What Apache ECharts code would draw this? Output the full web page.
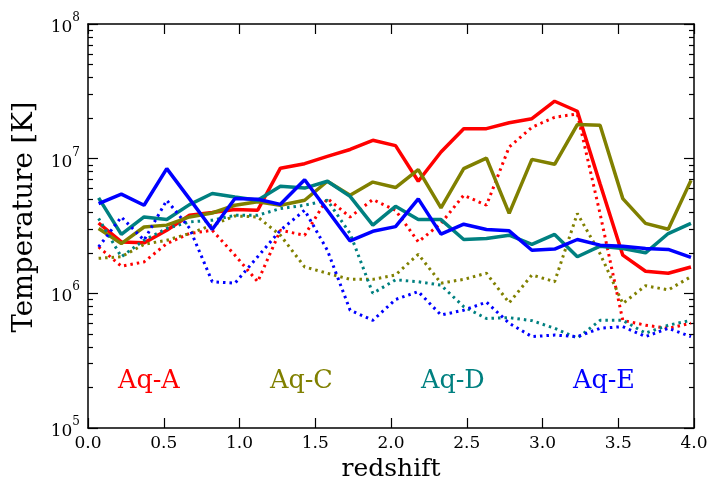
<!DOCTYPE html>
<html><head><meta charset="utf-8">
<script src="https://cdn.jsdelivr.net/npm/echarts@6/dist/echarts.min.js"></script>
<style>html,body{margin:0;padding:0;background:#fff}#c{width:708px;height:481px}</style>
</head><body><div id="c"></div>
<script>
// redshift sample points
const redshift = [0.07,0.22,0.37,0.52,0.67,0.82,0.97,1.12,1.27,1.43,1.58,1.73,1.88,2.03,2.18,2.33,2.48,2.63,2.78,2.93,3.08,3.23,3.38,3.53,3.68,3.83,3.98];

// Aq-A (red)
const aqA_solid = [3.33e6,2.41e6,2.37e6,2.94e6,3.8e6,3.98e6,4.2e6,4.14e6,8.5e6,9.18e6,1.04e7,1.17e7,1.37e7,1.25e7,6.8e6,1.12e7,1.67e7,1.67e7,1.85e7,1.98e7,2.67e7,2.25e7,6.5e6,1.92e6,1.46e6,1.41e6,1.57e6];
const aqA_dot   = [2.21e6,1.59e6,1.71e6,2.34e6,2.78e6,2.94e6,1.92e6,1.22e6,2.94e6,2.7e6,5.06e6,3.69e6,4.97e6,4.14e6,2.41e6,3.31e6,5.35e6,4.51e6,1.22e7,1.71e7,2.03e7,2.15e7,3.9e6,6.3e5,5.8e5,5.5e5,6.0e5];
// Aq-C (olive)
const aqC_solid = [3.03e6,2.34e6,3.11e6,3.21e6,3.69e6,3.95e6,4.51e6,4.78e6,4.51e6,4.91e6,6.8e6,5.35e6,6.7e6,6.1e6,8.3e6,4.31e6,8.43e6,1.01e7,3.92e6,9.88e6,9.08e6,1.79e7,1.77e7,5.05e6,3.31e6,2.99e6,6.9e6];
const aqC_dot   = [1.82e6,1.87e6,2.31e6,2.48e6,2.78e6,3.21e6,3.76e6,3.69e6,2.7e6,1.57e6,1.41e6,1.27e6,1.27e6,1.37e6,1.95e6,1.19e6,1.27e6,1.41e6,8.5e5,1.37e6,1.22e6,3.92e6,1.97e6,8.4e5,1.14e6,1.06e6,1.33e6];
// Aq-D (teal)
const aqD_solid = [5.12e6,2.74e6,3.69e6,3.53e6,4.56e6,5.51e6,5.2e6,4.91e6,6.24e6,6.05e6,6.8e6,5.25e6,3.21e6,4.43e6,3.53e6,3.53e6,2.51e6,2.55e6,2.7e6,2.31e6,2.74e6,1.87e6,2.24e6,2.15e6,2.0e6,2.78e6,3.31e6];
const aqD_dot   = [3.6e6,1.87e6,2.48e6,3.03e6,3.39e6,3.49e6,3.8e6,3.8e6,4.26e6,4.51e6,4.91e6,2.78e6,1.0e6,1.26e6,1.22e6,1.15e6,7.96e5,6.5e5,6.6e5,6.27e5,5.5e5,4.65e5,6.3e5,6.3e5,5.06e5,5.8e5,6.3e5];
// Aq-E (blue)
const aqE_solid = [4.64e6,5.45e6,4.51e6,8.43e6,5.03e6,2.98e6,5.06e6,5.0e6,4.58e6,6.98e6,4.14e6,2.45e6,2.89e6,3.13e6,5.03e6,2.75e6,3.26e6,2.98e6,2.91e6,2.09e6,2.13e6,2.51e6,2.28e6,2.24e6,2.15e6,2.12e6,1.85e6];
const aqE_dot   = [2.21e6,3.69e6,2.48e6,4.91e6,3.05e6,1.22e6,1.19e6,1.87e6,2.94e6,4.14e6,2.09e6,7.5e5,6.3e5,9.0e5,1.03e6,6.9e5,7.5e5,8.6e5,6.0e5,4.77e5,4.9e5,4.77e5,5.5e5,5.66e5,4.77e5,5.5e5,4.77e5];

const xTickLabels = ['0.0','0.5','1.0','1.5','2.0','2.5','3.0','3.5','4.0'];
const yTickExps = [5,6,7,8];
const labelNames = ['Aq-A','Aq-C','Aq-D','Aq-E'];
const colors = ['#ff0000','#808000','#008080','#0000ff'];

const FONT = 'DejaVu Serif';
const minorVals = [];
for (let e = 5; e < 8; e++) for (let k = 2; k <= 9; k++) minorVals.push(k * Math.pow(10, e));

const chart = echarts.init(document.getElementById('c'), null, {renderer: 'canvas'});
const G = {left: 88, right: 14, top: 24, bottom: 53, outerBoundsMode: 'none', containLabel: false};
const axLine = {show: true, lineStyle: {color: '#000', width: 1.5}};

function mk(name, arr, color, dotted) {
  return {
    name, type: 'line', xAxisIndex: 0, yAxisIndex: 0, symbol: 'none', clip: true,
    data: redshift.map((x, i) => [x, arr[i]]),
    lineStyle: dotted ? {color, width: 3, type: [2.5, 4]} : {color, width: 3.5},
    itemStyle: {color}, emphasis: {disabled: true}, z: 2
  };
}

const option = {
  animation: false,
  backgroundColor: '#fff',
  grid: G,
  xAxis: [
    {type: 'value', min: 0, max: 4, interval: 0.5, position: 'bottom',
     axisLine: axLine, splitLine: {show: false},
     axisTick: {inside: true, length: 10, lineStyle: {color: '#000', width: 1.2}},
     axisLabel: {color: '#000', fontFamily: FONT, fontSize: 17, margin: 7,
       formatter: v => xTickLabels[Math.round(v * 2)]},
     name: 'redshift', nameLocation: 'middle', nameGap: 29,
     nameTextStyle: {color: '#000', fontFamily: FONT, fontSize: 25}},
    {type: 'value', min: 0, max: 4, interval: 0.5, position: 'top',
     axisLine: axLine, splitLine: {show: false},
     axisTick: {inside: true, length: 10, lineStyle: {color: '#000', width: 1.2}},
     axisLabel: {show: false}}
  ],
  yAxis: [
    {type: 'log', logBase: 10, min: 1e5, max: 1e8, position: 'left',
     axisLine: axLine, splitLine: {show: false}, minorTick: {show: false},
     axisTick: {inside: true, length: 10, lineStyle: {color: '#000', width: 1.2}},
     axisLabel: {color: '#000', margin: 8,
       formatter: v => '{b|10}{s|' + Math.round(Math.log10(v)) + '}',
       rich: {b: {fontFamily: FONT, fontSize: 17, color: '#000', verticalAlign: 'bottom', lineHeight: 24},
              s: {fontFamily: FONT, fontSize: 12, color: '#000', verticalAlign: 'top', lineHeight: 24}}},
     name: 'Temperature [K]', nameLocation: 'middle', nameGap: 49,
     nameTextStyle: {color: '#000', fontFamily: FONT, fontSize: 27.5, padding: [0, 0, 0, 18]}},
    {type: 'log', logBase: 10, min: 1e5, max: 1e8, position: 'left',
     axisLine: {show: false}, splitLine: {show: false},
     axisTick: {inside: true, length: 5, customValues: minorVals, lineStyle: {color: '#000', width: 1.2}},
     axisLabel: {show: false}},
    {type: 'log', logBase: 10, min: 1e5, max: 1e8, position: 'right',
     axisLine: axLine, splitLine: {show: false},
     axisTick: {inside: true, length: 10, lineStyle: {color: '#000', width: 1.2}},
     axisLabel: {show: false}},
    {type: 'log', logBase: 10, min: 1e5, max: 1e8, position: 'right',
     axisLine: {show: false}, splitLine: {show: false},
     axisTick: {inside: true, length: 5, customValues: minorVals, lineStyle: {color: '#000', width: 1.2}},
     axisLabel: {show: false}}
  ],
  graphic: labelNames.map((t, i) => ({
    type: 'text', left: [118, 270, 421, 573][i], top: 368, z: 10,
    style: {text: t, fill: colors[i], font: '25.5px "' + FONT + '"'}
  })),
  series: [
    mk('Aq-A', aqA_solid, colors[0], false),
    mk('Aq-A dot', aqA_dot, colors[0], true),
    mk('Aq-C', aqC_solid, colors[1], false),
    mk('Aq-C dot', aqC_dot, colors[1], true),
    mk('Aq-D', aqD_solid, colors[2], false),
    mk('Aq-D dot', aqD_dot, colors[2], true),
    mk('Aq-E', aqE_solid, colors[3], false),
    mk('Aq-E dot', aqE_dot, colors[3], true)
  ]
};
chart.setOption(option);
</script></body></html>
